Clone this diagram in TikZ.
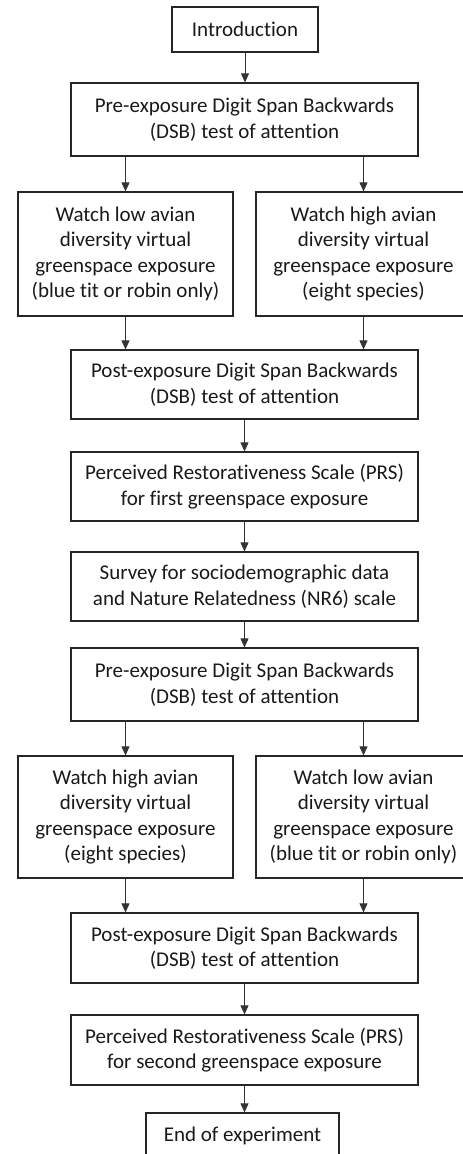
\documentclass[tikz,border=0pt]{standalone}
\usepackage{fontspec}
\setmainfont{Carlito}[Ligatures=NoCommon]
\usetikzlibrary{arrows.meta}
\tikzset{
  box/.style={draw=black!85, line width=1.2pt, align=center, inner sep=0pt,
    font=\fontsize{21}{25.5}\selectfont, text=black!90},
  arr/.style={draw=black!80, line width=0.8pt, -{Triangle[length=9pt,width=8pt]}}
}
\begin{document}
\begin{tikzpicture}[x=1pt,y=-1pt]
\useasboundingbox (0,0) rectangle (463,1154);
\clip (0,0) rectangle (463,1154);
\node[box, minimum width=146, minimum height=45] (intro) at (245,29.5) {Introduction};
\node[box, minimum width=347, minimum height=73] (pre1) at (244.5,119.5) {Pre-exposure Digit Span Backwards\\(DSB) test of attention};
\node[box, minimum width=215, minimum height=124] (left1) at (125.5,254) {Watch low avian\\diversity virtual\\greenspace exposure\\(blue tit or robin only)};
\node[box, minimum width=215, minimum height=124] (right1) at (363.5,254) {Watch high avian\\diversity virtual\\greenspace exposure\\(eight species)};
\node[box, minimum width=347, minimum height=69] (post1) at (244.5,384.5) {Post-exposure Digit Span Backwards\\(DSB) test of attention};
\node[box, minimum width=347, minimum height=69] (prs1) at (244.5,486.5) {Perceived Restorativeness Scale (PRS)\\for first greenspace exposure};
\node[box, minimum width=347, minimum height=69] (survey) at (244.5,586.5) {Survey for sociodemographic data\\and Nature Relatedness (NR6) scale};
\node[box, minimum width=347, minimum height=73] (pre2) at (244.5,684.5) {Pre-exposure Digit Span Backwards\\(DSB) test of attention};
\node[box, minimum width=215, minimum height=122] (left2) at (125.5,817) {Watch high avian\\diversity virtual\\greenspace exposure\\(eight species)};
\node[box, minimum width=215, minimum height=122] (right2) at (363.5,817) {Watch low avian\\diversity virtual\\greenspace exposure\\(blue tit or robin only)};
\node[box, minimum width=347, minimum height=70] (post2) at (244.5,948) {Post-exposure Digit Span Backwards\\(DSB) test of attention};
\node[box, minimum width=347, minimum height=70] (prs2) at (244.5,1050) {Perceived Restorativeness Scale (PRS)\\for second greenspace exposure};
\node[box, minimum width=193, minimum height=45] (end) at (242.5,1135.5) {End of experiment};

\draw[arr] (intro.south) -- (intro.south |- pre1.north);
\draw[arr] (pre1.south -| left1.north) -- (left1.north);
\draw[arr] (pre1.south -| right1.north) -- (right1.north);
\draw[arr] (left1.south) -- (left1.south |- post1.north);
\draw[arr] (right1.south) -- (right1.south |- post1.north);
\draw[arr] (post1.south) -- (prs1.north);
\draw[arr] (prs1.south) -- (survey.north);
\draw[arr] (survey.south) -- (pre2.north);
\draw[arr] (pre2.south -| left2.north) -- (left2.north);
\draw[arr] (pre2.south -| right2.north) -- (right2.north);
\draw[arr] (left2.south) -- (left2.south |- post2.north);
\draw[arr] (right2.south) -- (right2.south |- post2.north);
\draw[arr] (post2.south) -- (prs2.north);
\draw[arr] (prs2.south) -- (prs2.south |- end.north);
\end{tikzpicture}
\end{document}
